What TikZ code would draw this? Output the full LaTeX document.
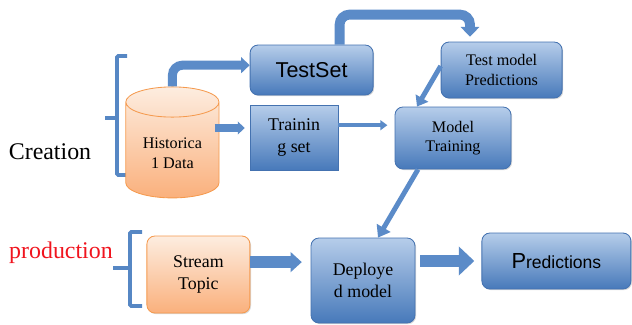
\documentclass[tikz,border=0pt]{standalone}
\usepackage{fontspec}
\setmainfont{Liberation Serif}
\setsansfont{Liberation Sans}
\usetikzlibrary{shapes.geometric,arrows.meta,shadows}

\definecolor{boxtop}{HTML}{B6CDEA}
\definecolor{boxbot}{HTML}{4779BA}
\definecolor{boxline}{HTML}{4472B0}
\definecolor{peachtop}{HTML}{FDEDE0}
\definecolor{peachbot}{HTML}{FAB07C}
\definecolor{peachline}{HTML}{F59A4E}
\definecolor{pipeblue}{HTML}{5B8BC8}
\definecolor{bracketblue}{HTML}{5687C4}
\definecolor{prodred}{HTML}{F0141E}

\begin{document}
\begin{tikzpicture}[
    bluebox/.style={draw=boxline, line width=0.6pt, rounded corners=0.2cm,
      top color=boxtop, bottom color=boxbot, align=center, inner sep=2pt,
      drop shadow={opacity=0.3, shadow xshift=0.8pt, shadow yshift=-0.8pt},
      font=\fontsize{11.5}{14}\selectfont},
    peachbox/.style={bluebox, draw=peachline, top color=peachtop, bottom color=peachbot,
      font=\fontsize{12.7}{15.5}\selectfont},
    bracket/.style={draw=bracketblue, line width=2.8pt, rounded corners=1pt},
    pipe/.style={draw=pipeblue, line cap=butt}
  ]
  \useasboundingbox (0,0) rectangle (15.8,8.1);

  % the two stages and their brackets
  \node (creation) at (1.25,4.3) {\fontsize{17}{17}\selectfont Creation};
  \node[text=prodred] (production) at (1.525,1.775) {\fontsize{17}{17}\selectfont production};

  \draw[bracket] (3.175,6.7) -- (2.925,6.7) -- (2.925,3.725) -- (3.175,3.725);
  \draw[bracket] (2.925,5.15) -- (2.625,5.15);
  \draw[bracket] (3.55,2.3) -- (3.25,2.3) -- (3.25,0.45) -- (3.55,0.45);
  \draw[bracket] (3.25,1.4) -- (2.825,1.4);

  % creation stage
  \node[cylinder, shape border rotate=90, aspect=0.44, draw=peachline, line width=0.6pt,
    top color=peachtop, bottom color=peachbot, minimum width=2.33cm, minimum height=2.775cm,
    anchor=shape center, align=center, font=\fontsize{11.5}{14}\selectfont]
    (hist) at (4.31,4.54) {Historica\\1 Data};
  \node[bluebox, minimum width=3.075cm, minimum height=1.25cm,
    font=\sffamily\fontsize{15.3}{18}\selectfont] (testset) at (7.79,6.35) {TestSet};
  \node[bluebox, rounded corners=0pt, minimum width=2.2cm, minimum height=1.625cm,
    font=\fontsize{12.7}{15.5}\selectfont] (train) at (7.35,4.66) {Trainin\\g set};
  \node[bluebox, minimum width=3.025cm, minimum height=1.4cm] (tmp) at (12.54,6.35) {Test model\\Predictions};
  \node[bluebox, minimum width=2.9cm, minimum height=1.55cm] (mtrain) at (11.325,4.65) {Model\\Training};

  % production stage
  \node[peachbox, minimum width=2.575cm, minimum height=1.925cm] (stream) at (4.96,1.2375) {Stream\\Topic};
  \node[bluebox, minimum width=2.6cm, minimum height=2.125cm,
    font=\fontsize{12.7}{15.5}\selectfont] (deploy) at (9.075,1.0875) {Deploye\\d model};
  \node[bluebox, minimum width=3.725cm, minimum height=1.4cm,
    font=\sffamily\fontsize{12.5}{15}\selectfont] (pred) at (13.91,1.575) {{\fontsize{15.5}{15}\selectfont P}redictions};

  % arrows between the boxes
  \draw[pipe, line width=6.4pt, rounded corners=0.25cm, -{Triangle[width=11pt,length=6pt]}]
    (hist.north) |- ([yshift=0.12cm]testset.west);
  \draw[pipe, line width=7pt, rounded corners=0.25cm, -{Triangle[width=13pt,length=7pt]}]
    ([xshift=0.7cm]testset.north) -- ++(0,0.75) -| ([xshift=-0.79cm, yshift=0.12cm]tmp.north);
  \draw[pipe, line width=5pt, -{Triangle[width=9pt,length=5pt]}]
    ([yshift=0.24cm, xshift=-0.12cm]train.west -| hist.east) -- ([yshift=0.24cm, xshift=-0.12cm]train.west);
  \draw[pipe, line width=3.2pt, shorten >=0.18cm, -{Triangle[width=7pt,length=5pt]}]
    ([yshift=0.31cm]train.east) -- ([yshift=0.31cm]train.east -| mtrain.west);
  \draw[pipe, line width=3.5pt, -{Triangle[width=10pt,length=7pt]}]
    ([yshift=0.1cm]tmp.west) -- ([xshift=-0.9cm]mtrain.north);
  \draw[pipe, line width=3.5pt, -{Triangle[width=11pt,length=8pt]}]
    ([xshift=-0.875cm]mtrain.south) -- ([xshift=0.375cm]deploy.north);
  \draw[pipe, line width=8.5pt, -{Triangle[width=14pt,length=8pt]}]
    ([yshift=0.31cm]stream.east) -- ([yshift=0.31cm, xshift=-0.22cm]stream.east -| deploy.west);
  \draw[pipe, line width=9pt, -{Triangle[width=20pt,length=11pt]}]
    ([xshift=0.12cm]deploy.east |- pred.west) -- ([xshift=-0.18cm]pred.west);
\end{tikzpicture}
\end{document}
